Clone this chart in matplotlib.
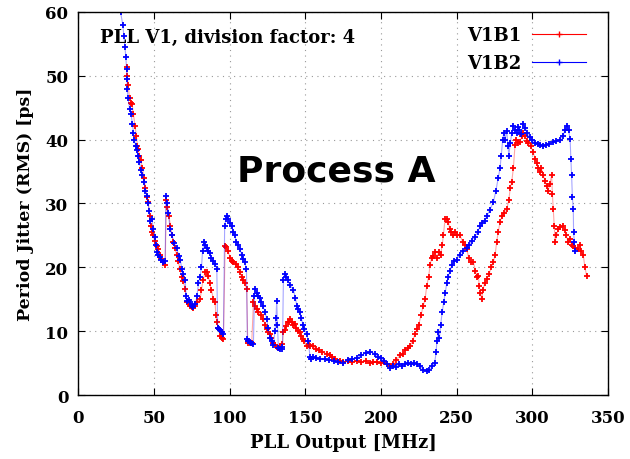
import matplotlib.pyplot as plt

# V1B1 (red)
v1b1_mhz = [32.0, 32.5, 33.0, 34.0, 35.0, 35.7, 36.5, 37.6, 38.5, 39.2, 39.8, 40.5, 41.5, 42.5, 43.5,
            44.5, 45.5, 46.4, 47.2, 48.0, 48.7, 49.5, 50.5, 52.0, 53.0, 54.0, 55.0, 56.0, 57.5, 58.3,
            59.0, 60.0, 61.0, 62.0, 63.0, 64.0, 65.0, 66.0, 67.4, 68.5, 69.5, 70.7, 71.8, 73.0, 74.0,
            75.0, 76.2, 77.5, 78.5, 80.6, 81.5, 82.5, 83.9, 85.0, 86.0, 87.0, 88.0, 89.4, 90.5, 91.0,
            91.6, 92.5, 93.8, 95.0, 96.0, 97.1, 98.0, 99.0, 100.5, 101.5, 102.6, 104.0, 105.5, 107.0, 108.0,
            109.0, 110.0, 111.4, 112.0, 112.5, 113.5, 114.7, 115.8, 117.0, 118.0, 119.0, 120.5, 122.4, 123.5, 124.5,
            125.5, 126.5, 127.5, 129.0, 130.0, 131.2, 132.5, 133.4, 135.0, 135.6, 136.5, 137.5, 138.5, 139.5, 140.0,
            141.0, 142.0, 143.0, 144.0, 145.0, 146.6, 147.5, 148.5, 149.5, 151.0, 152.5, 153.2, 155.4, 157.0, 159.0,
            161.0, 164.2, 166.4, 168.0, 170.0, 173.0, 175.2, 178.0, 181.0, 184.0, 187.0, 190.0, 193.0, 195.0, 197.3,
            200.0, 202.0, 204.0, 206.0, 208.0, 210.0, 212.7, 214.5, 216.0, 218.0, 219.3, 221.0, 222.5, 223.7, 225.0,
            226.5, 228.0, 229.2, 230.3, 231.5, 232.5, 233.5, 234.7, 235.8, 237.0, 238.1, 239.5, 240.5, 241.3, 242.4,
            243.5, 244.6, 245.5, 246.5, 247.9, 249.0, 250.5, 252.3, 254.0, 255.5, 256.7, 258.0, 259.5, 261.1, 262.5,
            263.5, 264.4, 265.0, 265.8, 266.6, 267.5, 268.5, 270.0, 271.5, 273.0, 274.3, 275.5, 276.5, 277.5, 278.7,
            280.0, 281.5, 283.1, 284.5, 285.5, 286.4, 287.5, 288.6, 289.5, 290.5, 291.9, 293.0, 294.1, 295.5, 296.3,
            297.5, 299.0, 300.7, 301.8, 302.9, 304.0, 305.0, 306.0, 307.3, 308.5, 309.5, 310.5, 311.5, 312.8, 313.3,
            313.9, 314.5, 315.1, 316.0, 317.2, 318.5, 320.5, 321.5, 322.5, 323.8, 325.0, 326.0, 327.1, 328.5, 330.4,
            331.5, 332.5, 333.7, 334.8, 335.9]
v1b1_ps = [51.3, 50.0, 48.5, 46.5, 45.8, 45.5, 44.0, 42.2, 40.5, 39.0, 38.5, 37.5, 36.8, 35.5, 34.0,
           32.5, 31.0, 30.2, 28.0, 26.5, 25.5, 25.0, 24.2, 23.4, 22.8, 22.0, 21.3, 20.8, 20.3, 30.5,
           29.5, 28.0, 26.5, 25.0, 23.9, 23.0, 22.0, 21.0, 19.7, 18.5, 17.8, 16.6, 14.5, 14.3, 14.0,
           13.8, 13.6, 14.0, 14.5, 15.0, 16.5, 18.0, 19.2, 19.3, 18.7, 17.5, 16.5, 15.0, 14.5, 12.5,
           11.5, 10.5, 9.3, 9.0, 8.8, 23.4, 23.2, 22.5, 21.5, 21.0, 20.8, 20.5, 20.0, 19.2, 18.5,
           18.0, 17.5, 16.6, 8.5, 8.2, 8.1, 8.2, 14.5, 14.0, 13.5, 13.0, 12.5, 11.9, 11.0, 10.3,
           9.8, 9.5, 9.0, 8.2, 7.8, 7.5, 7.4, 7.5, 8.0, 9.8, 10.2, 10.8, 11.5, 11.5, 11.9,
           11.5, 11.0, 11.2, 10.5, 10.0, 9.8, 9.2, 8.8, 8.5, 7.7, 7.8, 7.7, 7.7, 7.2, 7.0,
           6.7, 6.5, 6.2, 6.0, 5.7, 5.4, 5.2, 5.3, 5.2, 5.4, 5.1, 5.3, 5.0, 5.2, 5.1,
           5.0, 5.1, 4.8, 4.6, 4.9, 5.5, 6.2, 6.5, 7.0, 7.3, 7.7, 8.5, 9.5, 10.3, 11.0,
           12.5, 14.0, 15.0, 17.1, 18.5, 20.3, 21.5, 21.8, 22.4, 21.5, 22.4, 22.0, 23.5, 25.0, 27.6,
           27.5, 27.1, 26.0, 25.5, 25.0, 25.5, 25.0, 25.0, 24.0, 23.5, 22.9, 21.5, 20.8, 20.8, 19.5,
           18.5, 18.7, 17.0, 16.0, 15.0, 16.5, 17.5, 18.2, 19.0, 20.0, 20.8, 22.0, 24.0, 25.5, 27.1,
           28.0, 28.5, 29.1, 30.5, 32.5, 33.3, 35.5, 39.1, 40.0, 39.5, 39.6, 40.5, 41.0, 40.5, 39.8,
           39.5, 39.0, 38.0, 37.0, 36.4, 35.5, 35.0, 35.5, 34.4, 33.5, 32.8, 32.0, 33.0, 34.4, 31.5,
           29.1, 26.5, 23.9, 25.0, 26.0, 26.3, 26.5, 25.8, 25.0, 23.9, 24.5, 23.5, 23.4, 23.0, 22.9,
           23.5, 22.5, 21.9, 20.0, 18.7]

# V1B2 (blue)
v1b2_mhz = [28.0, 29.5, 30.2, 31.0, 31.5, 32.0, 32.4, 32.4, 33.0, 34.0, 35.0, 35.8, 36.5, 37.2, 38.0,
            38.7, 39.5, 40.5, 41.5, 42.5, 43.5, 44.5, 45.3, 46.2, 47.0, 47.6, 48.7, 49.7, 50.5, 51.2,
            52.0, 53.0, 54.0, 55.0, 56.3, 57.5, 58.0, 58.8, 59.5, 60.8, 62.0, 63.5, 65.0, 66.5, 67.4,
            68.5, 69.5, 70.7, 71.3, 72.0, 73.0, 74.0, 75.0, 76.2, 77.5, 78.5, 79.5, 80.5, 81.5, 82.2,
            83.2, 84.0, 85.0, 86.0, 87.0, 88.0, 89.4, 90.5, 91.6, 92.2, 93.0, 94.0, 95.0, 96.0, 96.8,
            97.5, 98.3, 99.3, 100.5, 101.5, 102.6, 103.5, 104.5, 105.5, 107.0, 108.0, 109.0, 110.0, 111.2, 111.8,
            112.5, 113.5, 114.5, 115.8, 116.5, 117.0, 118.0, 119.0, 120.0, 121.0, 122.0, 123.5, 124.6, 125.5, 126.8,
            128.0, 129.0, 130.0, 130.7, 131.2, 131.7, 132.3, 133.5, 134.5, 135.0, 135.6, 136.5, 137.5, 138.5, 140.0,
            142.2, 143.5, 144.5, 145.5, 146.6, 147.5, 148.5, 149.5, 151.0, 152.0, 153.2, 154.0, 155.0, 157.0, 160.0,
            163.0, 166.0, 169.0, 172.0, 175.0, 178.0, 181.0, 184.0, 187.0, 190.0, 193.0, 196.0, 198.0, 200.0, 202.0,
            204.0, 206.0, 208.0, 210.0, 212.0, 214.0, 216.0, 218.0, 220.0, 222.0, 224.0, 226.0, 228.0, 230.3, 232.0,
            234.0, 235.5, 236.5, 237.0, 238.0, 238.7, 239.5, 240.5, 241.5, 242.5, 243.5, 244.5, 245.7, 247.0, 248.5,
            250.0, 252.0, 254.0, 256.7, 258.5, 260.0, 262.0, 264.0, 265.5, 267.0, 268.5, 270.0, 272.0, 274.3, 276.0,
            277.5, 278.7, 279.5, 280.5, 281.2, 282.0, 283.1, 284.0, 284.5, 285.5, 286.5, 287.5, 288.5, 289.7, 290.5,
            291.5, 292.5, 294.1, 295.5, 296.5, 298.5, 300.0, 302.0, 303.5, 305.0, 307.0, 309.0, 311.0, 313.9, 316.0,
            318.0, 320.5, 321.5, 322.7, 324.0, 325.0, 325.5, 326.0, 326.5, 327.1, 327.3, 327.8, 328.2]
v1b2_ps = [60.0, 58.0, 56.3, 54.5, 53.0, 51.0, 49.5, 47.9, 46.5, 44.8, 44.0, 42.5, 41.1, 40.0, 39.0,
           38.3, 37.5, 36.5, 35.3, 34.5, 33.3, 32.0, 31.2, 30.0, 28.8, 27.2, 27.5, 26.0, 24.8, 23.5,
           22.4, 22.0, 21.6, 21.2, 20.8, 21.0, 31.2, 30.0, 28.5, 26.0, 25.0, 23.8, 23.0, 21.8, 21.2,
           19.8, 19.0, 18.0, 15.5, 14.8, 14.9, 14.5, 14.0, 13.8, 14.2, 15.5, 17.5, 18.5, 20.0, 22.5,
           24.0, 23.5, 23.0, 22.5, 22.2, 21.5, 21.0, 20.5, 19.8, 10.5, 10.3, 10.2, 9.8, 9.5, 26.5,
           27.5, 28.0, 27.5, 27.0, 26.5, 25.5, 25.0, 24.0, 23.5, 22.8, 22.0, 21.3, 20.8, 19.8, 8.8,
           8.5, 8.3, 8.2, 8.0, 15.5, 16.6, 16.0, 15.5, 15.2, 14.5, 14.0, 13.0, 11.9, 10.5, 9.0,
           8.5, 7.8, 10.0, 12.0, 14.8, 11.0, 7.3, 7.2, 7.2, 7.6, 18.0, 19.0, 18.5, 18.0, 17.2,
           16.5, 15.2, 14.0, 13.5, 13.0, 12.0, 11.0, 10.3, 9.5, 8.5, 6.0, 5.6, 6.0, 5.8, 5.7,
           5.6, 5.5, 5.4, 5.2, 5.0, 5.5, 5.6, 5.8, 6.2, 6.6, 6.8, 6.5, 5.9, 5.8, 5.4,
           4.8, 4.2, 4.5, 4.4, 4.9, 4.6, 4.9, 5.0, 4.8, 5.0, 4.9, 4.5, 4.0, 3.8, 4.0,
           4.5, 5.0, 6.7, 8.5, 9.8, 9.0, 11.0, 13.0, 14.5, 16.0, 17.5, 18.5, 19.5, 20.3, 21.0,
           21.2, 22.0, 22.5, 23.0, 23.5, 24.2, 24.8, 25.5, 26.5, 27.0, 27.3, 28.0, 29.0, 30.2, 32.0,
           34.0, 35.5, 37.5, 40.0, 41.0, 40.0, 41.4, 39.0, 37.5, 39.5, 41.0, 42.2, 41.5, 41.0, 42.0,
           41.5, 40.8, 42.4, 41.8, 41.0, 40.4, 40.0, 39.5, 39.3, 39.1, 39.0, 39.2, 39.3, 39.6, 39.8,
           40.0, 40.6, 41.5, 42.2, 41.5, 40.1, 37.0, 34.4, 31.0, 29.1, 25.5, 24.0, 22.5]

plt.rcParams['font.family'] = 'DejaVu Serif'
plt.rcParams['font.weight'] = 'bold'

fig = plt.figure(figsize=(6.3, 4.6), dpi=100)
ax = fig.add_axes([0.124, 0.139, 0.841, 0.833])

# faint connecting lines, then the markers on top
ax.plot(v1b1_mhz, v1b1_ps, color='red', lw=0.8, alpha=0.35)
ax.plot(v1b1_mhz, v1b1_ps, color='red', ls='none', marker='+', ms=4, mew=1.3)
ax.plot(v1b2_mhz, v1b2_ps, color='blue', lw=0.8, alpha=0.35)
ax.plot(v1b2_mhz, v1b2_ps, color='blue', ls='none', marker='+', ms=4, mew=1.3)

# legend handles
ax.plot([], [], color='red', lw=0.8, marker='+', ms=4, mew=1.0, label='V1B1')
ax.plot([], [], color='blue', lw=0.8, marker='+', ms=4, mew=1.0, label='V1B2')

ax.set_xlim(0, 350)
ax.set_ylim(0, 60)
ax.set_xticks(range(0, 351, 50))
ax.set_yticks(range(0, 61, 10))
ax.tick_params(direction='in', top=True, right=True, length=5, labelsize=12)
ax.tick_params(axis='x', pad=10)
ax.tick_params(axis='y', pad=7)
ax.grid(True, linestyle=(0, (1, 4)), color='#999999', lw=0.8)
for s in ax.spines.values():
    s.set_linewidth(1.0)

ax.set_xlabel('PLL Output [MHz]', fontsize=13, fontweight='bold', labelpad=5)
ax.set_ylabel('Period Jitter (RMS) [ps]', fontsize=12.5, fontweight='bold', labelpad=8)

ax.text(14.5, 56.0, 'PLL V1, division factor: 4', fontsize=13, fontweight='bold', va='center')
ax.text(170.4, 35.2, 'Process A', family='DejaVu Sans', fontsize=26, fontweight='bold',
        ha='center', va='center')

ax.legend(loc='upper right', bbox_to_anchor=(0.972, 0.982), frameon=False, markerfirst=False,
          numpoints=1, handlelength=3.0, fontsize=13, borderaxespad=0, labelspacing=0.55,
          handletextpad=0.6)

fig.savefig('out.png', dpi=100)
